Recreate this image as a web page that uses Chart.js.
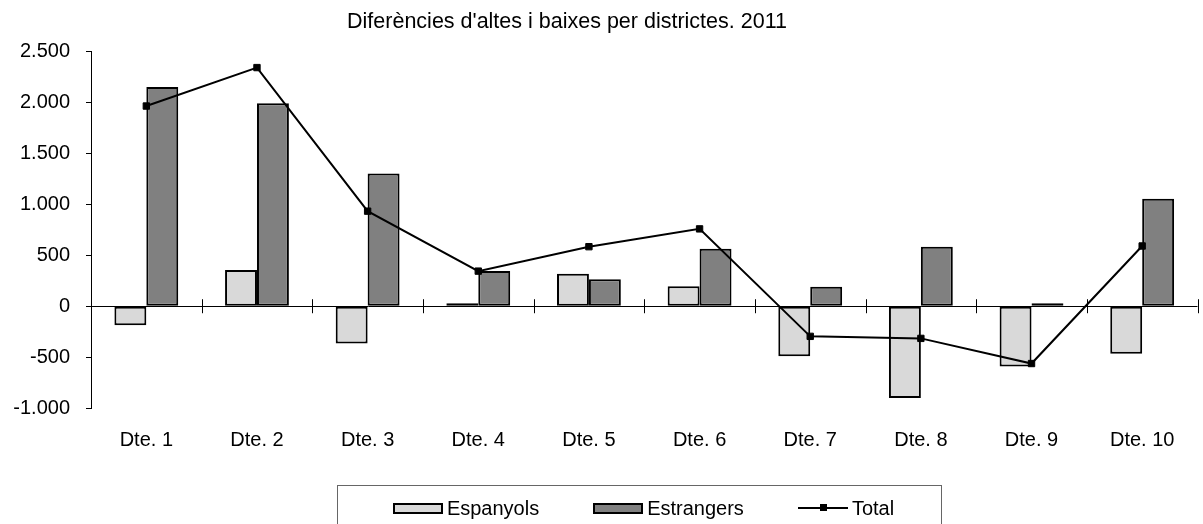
<!DOCTYPE html>
<html>
<head>
<meta charset="utf-8">
<script src="https://cdn.jsdelivr.net/npm/chart.js@4"></script>
<style>
  body { margin: 0; background: #fff; font-family: 'Liberation Sans', Arial, sans-serif; }
  #wrap { position: relative; width: 1203px; height: 524px; overflow: hidden; }
  #llegenda {
    position: absolute; left: 337px; top: 485px; width: 605px; height: 60px;
    box-sizing: border-box; border: 1px solid #666;
    display: flex; justify-content: center; align-items: flex-start;
    padding-top: 10px; padding-left: 8px;
    font-size: 20px; line-height: 24px; color: #000;
  }
  .item { display: flex; align-items: center; margin-right: 54px; }
  .item:last-child { margin-right: 0; }
  .caixa { width: 50px; height: 11px; box-sizing: border-box; border: 2px solid #000; margin-right: 4px; }
  .linia { position: relative; width: 50px; height: 12px; margin-right: 4px; }
  .linia .l { position: absolute; left: 0; right: 0; top: 5px; height: 2px; background: #000; }
  .linia .p { position: absolute; left: 22px; top: 2px; width: 7px; height: 7px; background: #000; }
</style>
</head>
<body>
<div id="wrap">
  <canvas id="grafic" width="1203" height="524"></canvas>
  <div id="llegenda"></div>
</div>
<script>
// dades
const titol = "Diferències d'altes i baixes per districtes. 2011";
const districtes = ['Dte. 1', 'Dte. 2', 'Dte. 3', 'Dte. 4', 'Dte. 5', 'Dte. 6', 'Dte. 7', 'Dte. 8', 'Dte. 9', 'Dte. 10'];
const espanyols = [-188, 355, -365, 4, 319, 197, -491, -902, -593, -468];
const estrangers = [2155, 1994, 1303, 345, 266, 566, 191, 585, 26, 1056];
const total = [1967, 2345, 934, 345, 585, 760, -296, -316, -563, 592];

const TITOL_X = 567;

// 2500 -> "2.500"
function formatNum(v) {
  const s = String(Math.abs(v)).replace(/\B(?=(\d{3})+(?!\d))/g, '.');
  return (v < 0 ? '-' : '') + s;
}

Chart.defaults.font.family = "'Liberation Sans', Arial, sans-serif";
Chart.defaults.font.size = 20;
Chart.defaults.color = '#000';

// marques de l'eix x sobre la linia del zero
const marquesEix = {
  id: 'marquesEix',
  beforeDatasetsDraw(chart) {
    const x = chart.scales.x;
    const y = chart.scales.y;
    const c = chart.ctx;
    const y0 = y.getPixelForValue(0);
    const half = (x.getPixelForValue(1) - x.getPixelForValue(0)) / 2;
    c.save();
    c.strokeStyle = '#000';
    c.lineWidth = 1;
    c.beginPath();
    for (let i = 0; i < districtes.length; i++) {
      const px = Math.round(x.getPixelForValue(i) + half) + 0.5;
      c.moveTo(px, y0 - 7);
      c.lineTo(px, y0 + 7);
    }
    c.stroke();
    c.restore();
  }
};

// titol una mica desplaçat a l'esquerra
const titolDesplacat = {
  id: 'titolDesplacat',
  afterLayout(chart) {
    const t = chart.titleBlock;
    const w = t.right - t.left;
    t.left = TITOL_X - w / 2;
    t.right = TITOL_X + w / 2;
  }
};

const ctx = document.getElementById('grafic');
const grafic = new Chart(ctx, {
  type: 'bar',
  data: {
    labels: districtes,
    datasets: [{
      label: 'Espanyols',
      data: espanyols,
      backgroundColor: '#d9d9d9',
      borderColor: '#000',
      borderWidth: 2,
      borderSkipped: false,
      minBarLength: 3,
      barPercentage: 1,
      categoryPercentage: 0.577,
      order: 1
    }, {
      label: 'Estrangers',
      data: estrangers,
      backgroundColor: '#808080',
      borderColor: '#000',
      borderWidth: 2,
      borderSkipped: false,
      minBarLength: 3,
      barPercentage: 1,
      categoryPercentage: 0.577,
      order: 1
    }, {
      type: 'line',
      label: 'Total',
      data: total,
      borderColor: '#000',
      backgroundColor: '#000',
      borderWidth: 2,
      tension: 0,
      fill: false,
      pointStyle: 'rect',
      pointRadius: 4.5,
      pointBorderWidth: 1,
      pointBackgroundColor: '#000',
      pointBorderColor: '#000',
      order: 0
    }]
  },
  options: {
    responsive: false,
    animation: false,
    layout: { padding: { left: 0, right: 2, top: 0, bottom: 60 } },
    plugins: {
      legend: { display: false },
      tooltip: { enabled: false },
      title: {
        display: true,
        text: titol,
        color: '#000',
        font: { size: 21.5, weight: 'normal' },
        padding: { top: 9, bottom: 17 }
      }
    },
    scales: {
      x: {
        grid: { display: false },
        border: { display: false },
        ticks: { color: '#000', padding: 12, maxRotation: 0, autoSkip: false }
      },
      y: {
        min: -1000,
        max: 2500,
        afterFit: s => { s.width = 91; },
        ticks: { stepSize: 500, color: '#000', padding: 16, callback: v => formatNum(v) },
        grid: {
          color: c => (c.tick && c.tick.value === 0 ? '#000' : 'rgba(0,0,0,0)'),
          tickColor: '#000',
          tickLength: 5,
          drawTicks: true
        },
        border: { color: '#000' }
      }
    }
  },
  plugins: [marquesEix, titolDesplacat]
});

// llegenda html
const llegenda = document.getElementById('llegenda');
grafic.data.datasets.forEach(ds => {
  const item = document.createElement('div');
  item.className = 'item';
  let mostra;
  if (ds.type === 'line') {
    mostra = document.createElement('div');
    mostra.className = 'linia';
    mostra.innerHTML = '<div class="l"></div><div class="p"></div>';
  } else {
    mostra = document.createElement('div');
    mostra.className = 'caixa';
    mostra.style.background = ds.backgroundColor;
  }
  const txt = document.createElement('span');
  txt.textContent = ds.label;
  item.appendChild(mostra);
  item.appendChild(txt);
  llegenda.appendChild(item);
});
</script>
</body>
</html>
